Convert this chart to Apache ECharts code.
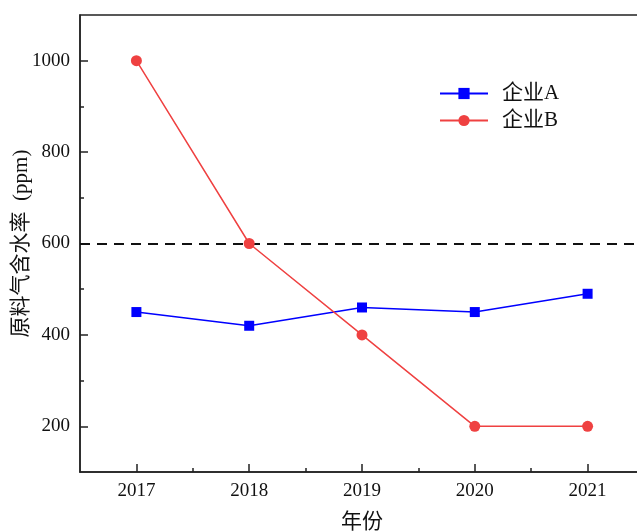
<!DOCTYPE html>
<html>
<head>
<meta charset="utf-8">
<script src="https://cdn.jsdelivr.net/npm/echarts@6/dist/echarts.min.js"></script>
<style>
  html, body { margin: 0; padding: 0; background: #fff; }
  #chart { width: 637px; height: 531px; }
</style>
</head>
<body>
<div id="chart"></div>
<script>
// Moisture content of feed gas (ppm) by year for two companies
const years = [2017, 2018, 2019, 2020, 2021];
const companyA = [450, 420, 460, 450, 490];
const companyB = [1000, 600, 400, 200, 200];
const limitValue = 600;
const yMajorTicks = [200, 400, 600, 800, 1000];
const yMinorTicks = [300, 500, 700, 900];
const xMinorTicks = [2017.5, 2018.5, 2019.5, 2020.5];
const seriesNames = ['企业A', '企业B'];

const FONT = '"Liberation Serif", "Times New Roman", "Noto Sans CJK SC", serif';

const chart = echarts.init(document.getElementById('chart'), null, { renderer: 'canvas' });

const baseX = {
  type: 'value', min: 2016.5, max: 2021.5, interval: 0.5,
  splitLine: { show: false }
};
const baseY = {
  type: 'value', min: 100, max: 1100, interval: 100,
  splitLine: { show: false }
};

chart.setOption({
  animation: false,
  backgroundColor: '#fff',
  grid: {
    left: 80, right: -7, top: 15, bottom: 59,
    outerBoundsMode: 'none', containLabel: false,
    show: true, borderColor: '#222', borderWidth: 1.5, backgroundColor: 'transparent'
  },
  legend: {
    left: 434, top: 78,
    orient: 'vertical',
    itemWidth: 48, itemHeight: 14, itemGap: 6,
    data: seriesNames,
    textStyle: { fontFamily: FONT, fontSize: 21, color: '#111', padding: [0, 0, 0, 9] }
  },
  xAxis: [
    Object.assign({}, baseX, {
      name: '年份', nameLocation: 'middle', nameGap: 40, nameMoveOverlap: false,
      nameTextStyle: { fontFamily: FONT, fontSize: 21, color: '#111' },
      axisLine: { show: true, lineStyle: { color: '#222', width: 1.5 } },
      axisTick: { show: true, inside: true, length: 8, customValues: years, lineStyle: { color: '#222', width: 1.5 } },
      axisLabel: { customValues: years, fontFamily: FONT, fontSize: 19, color: '#111', margin: 10, formatter: v => String(Math.round(v)) }
    }),
    Object.assign({}, baseX, {
      position: 'bottom',
      axisLine: { show: false },
      axisTick: { show: true, inside: true, length: 4, customValues: xMinorTicks, lineStyle: { color: '#222', width: 1.5 } },
      axisLabel: { show: false }
    })
  ],
  yAxis: [
    Object.assign({}, baseY, {
      name: '原料气含水率  (ppm)', nameLocation: 'middle', nameGap: 48, nameMoveOverlap: false,
      nameTextStyle: { fontFamily: FONT, fontSize: 21, color: '#111' },
      axisLine: { show: true, lineStyle: { color: '#222', width: 1.5 } },
      axisTick: { show: true, inside: true, length: 8, customValues: yMajorTicks, lineStyle: { color: '#222', width: 1.5 } },
      axisLabel: { customValues: yMajorTicks, fontFamily: FONT, fontSize: 19, color: '#111', margin: 10, formatter: v => String(Math.round(v)) }
    }),
    Object.assign({}, baseY, {
      position: 'left',
      axisLine: { show: false },
      axisTick: { show: true, inside: true, length: 4, customValues: yMinorTicks, lineStyle: { color: '#222', width: 1.5 } },
      axisLabel: { show: false }
    })
  ],
  series: [
    {
      name: seriesNames[0], type: 'line',
      data: years.map((y, i) => [y, companyA[i]]),
      symbol: 'rect', symbolSize: 10,
      itemStyle: { color: '#0000ff' },
      lineStyle: { color: '#0000ff', width: 1.5 },
      z: 3
    },
    {
      name: seriesNames[1], type: 'line',
      data: years.map((y, i) => [y, companyB[i]]),
      symbol: 'circle', symbolSize: 11,
      itemStyle: { color: '#ef4141' },
      lineStyle: { color: '#ef4141', width: 1.5 },
      z: 4,
      markLine: {
        silent: true, symbol: 'none', label: { show: false },
        lineStyle: { color: '#111', width: 2, type: [10, 7] },
        z: 2,
        data: [{ yAxis: limitValue }]
      }
    }
  ]
});
</script>
</body>
</html>
